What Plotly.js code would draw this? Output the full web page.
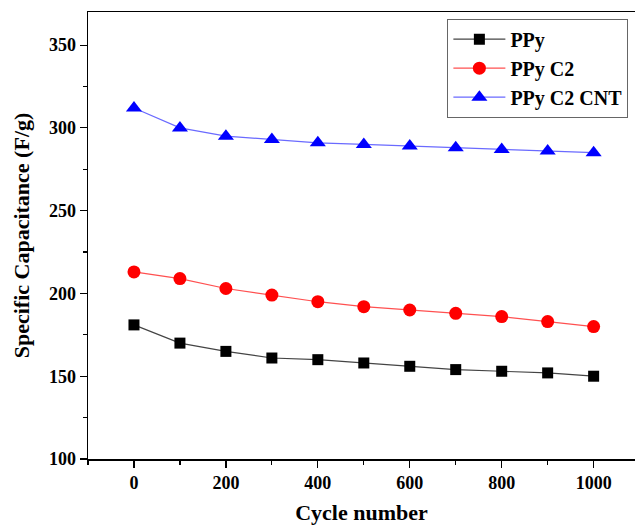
<!DOCTYPE html>
<html>
<head>
<meta charset="utf-8">
<script src="https://cdn.plot.ly/plotly-3.0.1.min.js"></script>
<style>html,body{margin:0;padding:0;background:#fff;}#chart{width:635px;height:528px;}</style>
</head>
<body>
<div id="chart"></div>
<script>
const cycles = [0, 100, 200, 300, 400, 500, 600, 700, 800, 900, 1000];
const ppy = [181, 170, 165, 161, 160, 158, 156, 154, 153, 152, 150];
const ppyC2 = [213, 209, 203, 199, 195, 192, 190, 188, 186, 183, 180];
const ppyC2CNT = [312, 300, 295, 293, 291, 290, 289, 288, 287, 286, 285];
const seriesNames = ["PPy", "PPy C2", "PPy C2 CNT"];

const font = "Liberation Serif, Times New Roman, serif";

const traces = [
  {x: cycles, y: ppy, name: seriesNames[0], mode: "lines+markers",
   line: {color: "#444444", width: 1.2},
   marker: {symbol: "square", size: 11, color: "#000000"}},
  {x: cycles, y: ppyC2, name: seriesNames[1], mode: "lines+markers",
   line: {color: "#ff5050", width: 1.2},
   marker: {symbol: "circle", size: 13, color: "#ff0000"}},
  {x: cycles, y: ppyC2CNT, name: seriesNames[2], mode: "lines+markers",
   line: {color: "#6a6aff", width: 1.2},
   marker: {symbol: "triangle-up", size: 14, color: "#0000ff"}}
];

const layout = {
  width: 635, height: 528,
  margin: {l: 88, r: 0, t: 12, b: 69},
  paper_bgcolor: "#ffffff", plot_bgcolor: "#ffffff",
  font: {family: font, color: "#000", size: 18},
  showlegend: true,
  legend: {x: 0.657, y: 0.985, xanchor: "left", yanchor: "top",
           bordercolor: "#666", borderwidth: 1,
           font: {family: font, size: 20, weight: "bold"},
           tracegroupgap: 0, itemwidth: 52},
  xaxis: {
    range: [-100, 1090], tick0: 0, dtick: 200,
    ticks: "outside", ticklen: 7, tickwidth: 1.2, tickcolor: "#000",
    minor: {dtick: 100, ticks: "outside", ticklen: 4, tickcolor: "#000"},
    showline: true, linecolor: "#000", linewidth: 1.5, mirror: true,
    showgrid: false, zeroline: false,
    tickfont: {family: font, size: 18, weight: "bold"},
    title: {text: "Cycle number", font: {family: font, size: 22, weight: "bold"}, standoff: 12}
  },
  yaxis: {
    range: [100, 370], tick0: 100, dtick: 50,
    ticks: "outside", ticklen: 7, tickwidth: 1.2, tickcolor: "#000",
    minor: {dtick: 25, ticks: "outside", ticklen: 4, tickcolor: "#000"},
    showline: true, linecolor: "#000", linewidth: 1.5, mirror: false,
    showgrid: false, zeroline: false,
    tickfont: {family: font, size: 18, weight: "bold"},
    title: {text: "Specific Capacitance (F/g)", font: {family: font, size: 22, weight: "bold"}, standoff: 13}
  }
};

Plotly.newPlot("chart", traces, layout, {displayModeBar: false, staticPlot: true});
</script>
</body>
</html>
